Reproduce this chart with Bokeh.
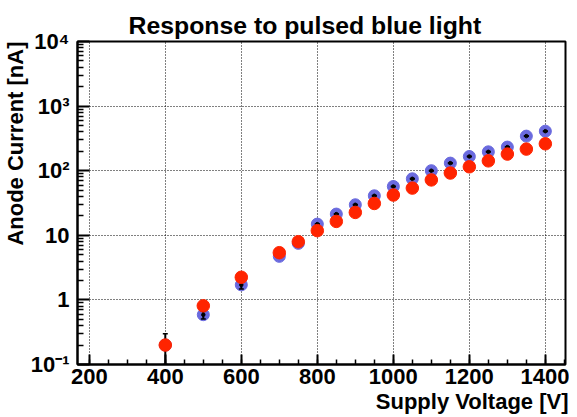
from bokeh.plotting import figure
from bokeh.models import FixedTicker, Title, ColumnDataSource
from bokeh.embed import file_html
from bokeh.resources import INLINE

# ---- data ----
voltage = [400, 500, 600, 700, 750, 800, 850, 900, 950, 1000, 1050,
           1100, 1150, 1200, 1250, 1300, 1350, 1400]
blue_current = [0.2, 0.59, 1.71, 4.72, 7.5, 14.9, 21.3, 29.7, 40.9, 57, 75,
                100, 131, 166, 196, 232, 343, 409]
blue_error = [0.1, 0.085, 0.23, 0.05, 0.08, 0.15, 0.2, 0.3, 0.4, 0.5, 0.7,
              0.9, 1.2, 1.5, 1.8, 2.1, 3.1, 3.7]
red_current = [0.2, 0.81, 2.24, 5.38, 7.96, 11.8, 16.4, 22.6, 31.1, 42, 53.8,
               72, 92, 115, 142, 181, 216, 261]

x_ticks = [200, 400, 600, 800, 1000, 1200, 1400]
x_minor_ticks = list(range(200, 1451, 50))
y_ticks = [0.1, 1, 10, 100, 1000, 10000]
y_tick_labels = ["10\u207b\u00b9", "1", "10", "10\u00b2", "10\u00b3", "10\u2074"]
y_minor_ticks = [m * 10.0 ** e for e in range(-1, 4) for m in range(2, 10)]

title_text = "Response to pulsed blue light"
x_label = "Supply Voltage [V]"
y_label = "Anode Current [nA]"

FONT = "Liberation Sans"
BLUE = "#6a6ade"
RED = "#ff2400"

W, H = 569, 417
BL, BR, BT, BB = 71, 4, 41, 53

p = figure(width=W, height=H, x_range=(169, 1453), y_range=(0.1, 1e4),
           y_axis_type="log", output_backend="svg", toolbar_location=None,
           min_border_left=BL, min_border_right=BR, min_border_top=BT,
           min_border_bottom=BB)
p.background_fill_color = "white"
p.border_fill_color = "white"
p.outline_line_color = "black"
p.outline_line_width = 2

# title
p.title.text = title_text
p.title.align = "left"
p.title.offset = 51
p.title.standoff = 6
p.title.text_font = FONT
p.title.text_font_style = "bold"
p.title.text_font_size = "24.8px"
p.title.text_color = "black"

# axes
for ax in (p.xaxis[0], p.yaxis[0]):
    ax.axis_line_width = 2
    ax.axis_line_color = "black"
    ax.major_tick_in = 10
    ax.major_tick_out = 0
    ax.minor_tick_in = 5
    ax.minor_tick_out = 0
    ax.major_tick_line_width = 2
    ax.minor_tick_line_width = 1.5
    ax.major_label_text_font = FONT
    ax.major_label_text_font_style = "bold"
    ax.major_label_text_font_size = "22px"
    ax.major_label_text_color = "black"

p.xaxis[0].ticker = FixedTicker(ticks=x_ticks, minor_ticks=x_minor_ticks)
p.xaxis[0].major_label_standoff = 4
p.yaxis[0].ticker = FixedTicker(ticks=y_ticks, minor_ticks=y_minor_ticks)
p.yaxis[0].major_label_overrides = dict(zip(y_ticks, y_tick_labels))
p.yaxis[0].major_label_standoff = 8
p.yaxis[0].minor_tick_in = 6
p.yaxis[0].major_tick_in = 12

# axis titles, right-aligned like the reference
p.add_layout(Title(text=x_label, align="right", standoff=0, offset=-3,
                   text_font=FONT, text_font_style="bold",
                   text_font_size="22px", text_color="black"), "below")
p.add_layout(Title(text=y_label, align="right", standoff=0, offset=0,
                   text_font=FONT, text_font_style="bold",
                   text_font_size="22px", text_color="black"), "left")

# grid
p.xgrid.ticker = FixedTicker(ticks=x_ticks)
p.ygrid.ticker = FixedTicker(ticks=y_ticks)
for g in (p.xgrid[0], p.ygrid[0]):
    g.grid_line_color = "black"
    g.grid_line_alpha = 1.0
    g.grid_line_dash = "1 2"
    g.grid_line_width = 1

src = ColumnDataSource(dict(
    x=voltage,
    blue=blue_current,
    red=red_current,
    lo=[max(b - e, 0.05) for b, e in zip(blue_current, blue_error)],
    hi=[b + e for b, e in zip(blue_current, blue_error)],
))

p.scatter("x", "blue", source=src, size=12, fill_color=BLUE, line_color=BLUE,
          marker="circle")
p.segment(x0="x", y0="lo", x1="x", y1="hi", source=src, line_color="black",
          line_width=2)
p.scatter("x", "hi", source=src, marker="dash", size=5, line_color="black",
          line_width=1.5)
p.scatter("x", "lo", source=src, marker="dash", size=5, line_color="black",
          line_width=1.5)
p.scatter("x", "blue", source=src, size=3.5, fill_color="black",
          line_color="black", marker="circle")
p.scatter("x", "red", source=src, size=12.5, fill_color=RED, line_color=RED,
          marker="circle")

open("out.html", "w").write(file_html(p, INLINE))
